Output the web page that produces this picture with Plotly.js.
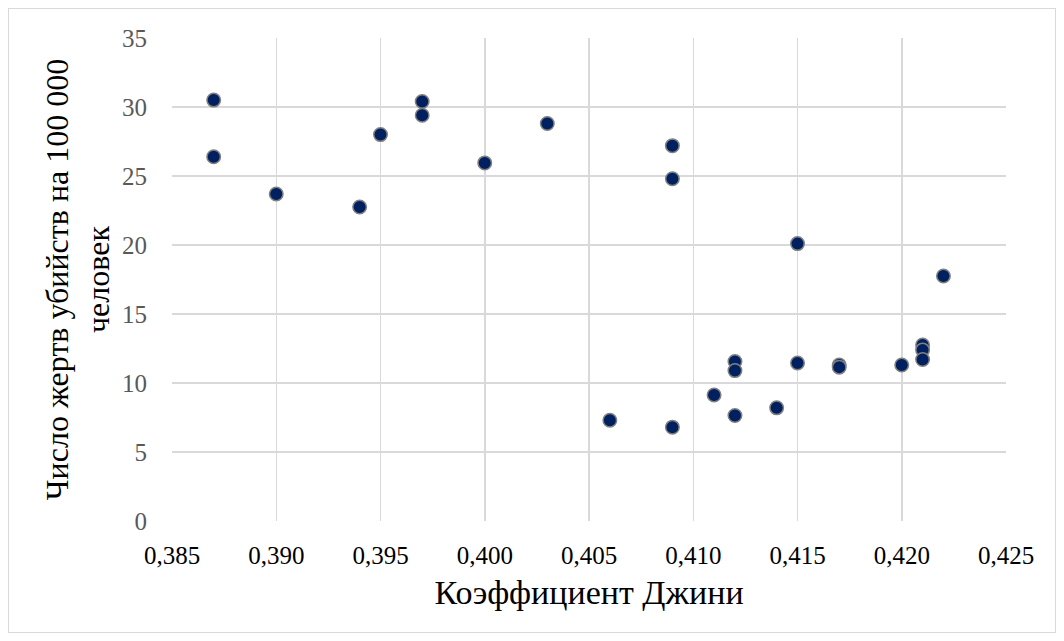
<!DOCTYPE html>
<html>
<head>
<meta charset="utf-8">
<script src="https://cdn.plot.ly/plotly-3.0.1.min.js"></script>
<style>
html,body{margin:0;padding:0;background:#fff;}
#chart{position:absolute;left:0;top:0;width:1064px;height:641px;}
#frame{position:absolute;left:8px;top:8px;width:1046px;height:623px;border:1px solid #d9d9d9;pointer-events:none;}
</style>
</head>
<body>
<div id="chart"></div>
<div id="frame"></div>
<script>
const gini = [0.387, 0.387, 0.390, 0.394, 0.395, 0.397, 0.397, 0.400, 0.403, 0.409, 0.409,
              0.406, 0.409, 0.411, 0.412, 0.412, 0.412, 0.414, 0.415, 0.415, 0.417, 0.417,
              0.420, 0.421, 0.421, 0.421, 0.422];
const homicide = [30.5, 26.4, 23.7, 22.75, 28.0, 30.4, 29.4, 25.95, 28.8, 27.2, 24.8,
                  7.3, 6.8, 9.13, 11.55, 10.9, 7.65, 8.2, 20.1, 11.45, 11.3, 11.15,
                  11.3, 12.75, 12.4, 11.7, 17.75];
const xTitle = "Коэффициент Джини";
const yTitle = "Число жертв убийств на 100 000<br>человек";

const serif = "'Liberation Serif', 'Times New Roman', serif";
const trace = {
  x: gini, y: homicide, type: "scatter", mode: "markers",
  marker: {size: 13.5, color: "#002060", line: {color: "#808080", width: 1.5}},
  hoverinfo: "x+y"
};
const layout = {
  width: 1064, height: 641,
  margin: {l: 172, r: 58, t: 38, b: 120},
  separators: ", ",
  paper_bgcolor: "rgba(0,0,0,0)", plot_bgcolor: "#fff",
  showlegend: false,
  font: {family: serif, color: "#000", size: 25},
  xaxis: {
    range: [0.385, 0.425], dtick: 0.005, tick0: 0.385, tickformat: ".3f",
    showgrid: true, gridcolor: "#d9d9d9", gridwidth: 1.5, zeroline: false,
    showline: false, ticks: "", ticklabelstandoff: 17,
    tickfont: {family: serif, color: "#000", size: 25},
    title: {text: xTitle, font: {family: serif, color: "#000", size: 34}, standoff: 12}
  },
  yaxis: {
    range: [0, 35], dtick: 5,
    showgrid: true, gridcolor: "#d9d9d9", gridwidth: 1.5, zeroline: false,
    showline: false, ticks: "", ticklabelstandoff: 24,
    tickfont: {family: serif, color: "#595959", size: 25},
    title: {text: yTitle, font: {family: serif, color: "#000", size: 32}, standoff: 2}
  }
};
Plotly.newPlot("chart", [trace], layout, {displayModeBar: false, staticPlot: true});
</script>
</body>
</html>
